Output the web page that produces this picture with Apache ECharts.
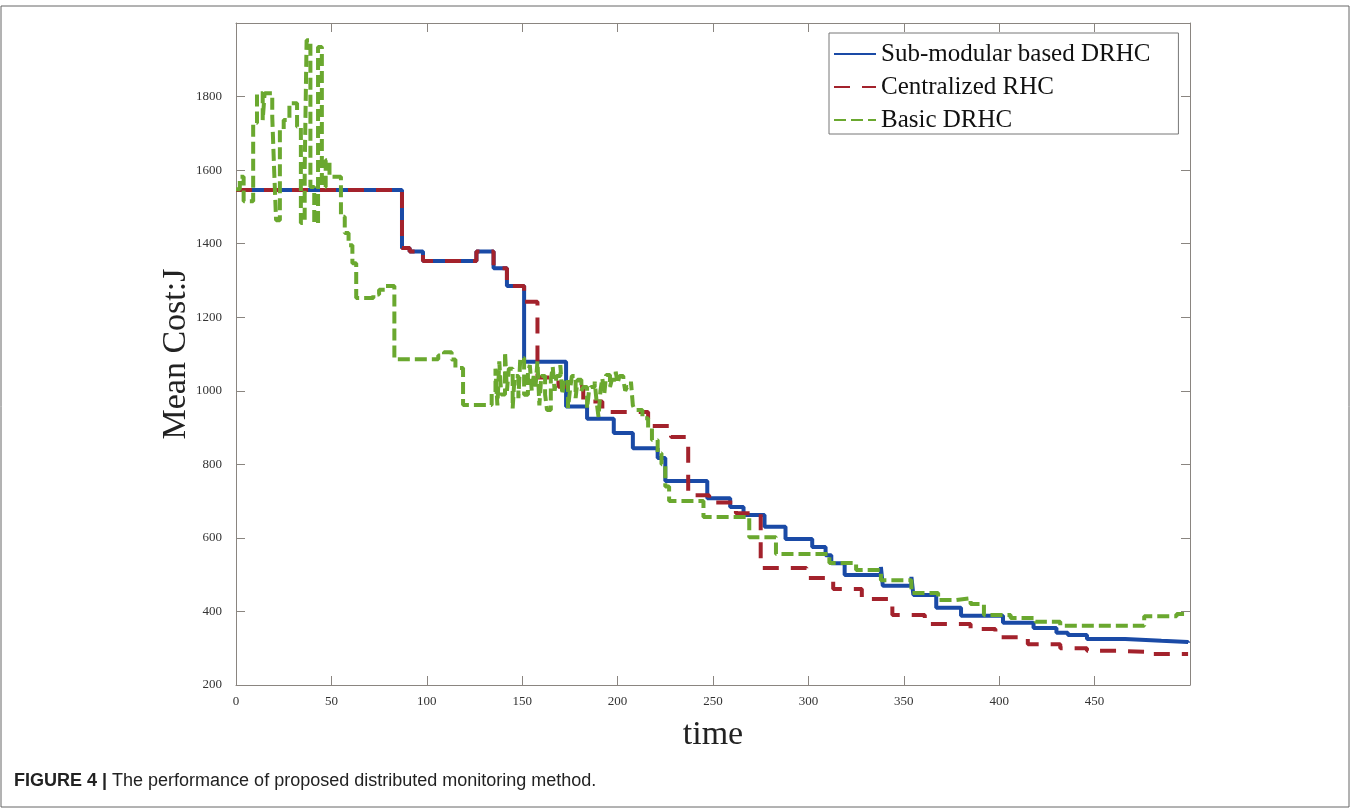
<!DOCTYPE html>
<html>
<head>
<meta charset="utf-8">
<script src="https://cdn.jsdelivr.net/npm/echarts@6/dist/echarts.min.js"></script>
<style>
  html, body { margin: 0; padding: 0; background: #fff; }
  #box { width: 1355px; height: 808px; }
</style>
</head>
<body>
<div id="box"></div>
<script>
// series names
var seriesNames = ['Sub-modular based DRHC', 'Centralized RHC', 'Basic DRHC'];

// [time, mean cost] -- each value holds until the next time
var subModular = [
    [0, 1546], [87, 1388], [91, 1379], [98, 1353], [126, 1379], [135, 1333], [142, 1285],
    [151, 1079], [173, 957], [184, 924], [198, 885], [208, 844], [221, 817], [225, 755],
    [247, 708], [259, 684], [266, 662], [277, 630], [288, 597], [302, 575], [309, 553],
    [312, 531], [319, 499], [338, 521], [339, 470], [354, 494], [355, 445], [367, 410],
    [380, 388], [402, 369], [418, 355], [430, 342], [436, 336], [446, 325], [466, 320],
    [485, 317], [499, 315]
];

var centralized = [
    [0, 1546], [87, 1388], [91, 1379], [98, 1353], [126, 1379], [135, 1333], [142, 1285],
    [151, 1242], [158, 1036], [169, 1011], [182, 971], [192, 942], [216, 904], [228, 874],
    [237, 716], [248, 696], [262, 667], [275, 518], [299, 491], [313, 461], [328, 434],
    [344, 390], [361, 366], [385, 352], [398, 330], [415, 311], [432, 300], [446, 293],
    [462, 290], [480, 284], [499, 284]
];

var basic = [
    [0, 1548], [2, 1582], [4, 1515], [9, 1728], [11, 1809], [14, 1736], [15, 1809],
    [19, 1745], [20, 1600], [21, 1464], [23, 1709], [25, 1736], [28, 1782], [32, 1718],
    [34, 1456], [36, 1600], [37, 1953], [39, 1554], [41, 1456], [43, 1935], [45, 1554],
    [47, 1627], [49, 1582], [55, 1473], [57, 1429], [59, 1396], [61, 1347], [63, 1252],
    [72, 1262], [75, 1275], [78, 1285], [83, 1086], [106, 1096], [109, 1105], [113, 1085],
    [115, 1062], [119, 961], [134, 997], [136, 1060], [137, 960], [138, 1080], [139, 990],
    [141, 1106], [142, 1000], [143, 1060], [145, 952], [146, 1040], [148, 980], [149, 1089],
    [151, 989], [153, 1050], [154, 1070], [155, 1000], [156, 1040], [157, 1012], [158, 1080],
    [159, 960], [160, 1040], [162, 990], [163, 948], [165, 1030], [166, 1065], [167, 1000],
    [168, 1040], [170, 1070], [171, 990], [172, 1030], [174, 953], [175, 1000], [176, 1040],
    [178, 980], [179, 1030], [181, 1000], [182, 1010], [184, 952], [185, 1000], [186, 1010],
    [188, 1025], [189, 970], [190, 929], [191, 1000], [192, 1034], [193, 990], [194, 1043],
    [196, 1010], [197, 1030], [199, 1052], [200, 1020], [201, 1040], [203, 1030], [204, 1000],
    [205, 1010], [207, 1025], [208, 960], [209, 948], [213, 925], [216, 900], [218, 866],
    [221, 830], [223, 800], [225, 740], [227, 700], [245, 657], [269, 602], [283, 556],
    [311, 532], [325, 513], [338, 485], [354, 450], [368, 431], [377, 436], [385, 420],
    [392, 390], [406, 382], [419, 372], [432, 361], [476, 387], [493, 393], [499, 393]
];

var serif = 'Liberation Serif';
var axisGray = '#8a8580';

var myChart = echarts.init(document.getElementById('box'));
var option = {
    animation: false,
    backgroundColor: '#fff',
    grid: { left: 236, right: 165, top: 23, bottom: 123 },
    legend: {
        orient: 'vertical',
        left: 829,
        top: 33,
        padding: [8, 28, 1, 4],
        borderColor: '#777',
        borderWidth: 1,
        backgroundColor: '#fff',
        itemWidth: 42,
        itemHeight: 14,
        itemGap: 7,
        itemStyle: { opacity: 0 },
        data: seriesNames,
        textStyle: { fontFamily: serif, fontSize: 25, color: '#111', lineHeight: 26 }
    },
    xAxis: [
        {
            type: 'value',
            min: 0, max: 500, interval: 50,
            name: 'time',
            nameLocation: 'middle',
            nameGap: 33,
            nameTextStyle: { fontFamily: serif, fontSize: 34, color: '#222' },
            axisLine: { show: true, onZero: false, lineStyle: { color: axisGray } },
            axisTick: { inside: true, length: 9, lineStyle: { color: axisGray } },
            axisLabel: { showMaxLabel: false, fontFamily: serif, fontSize: 13, color: '#333', margin: 10 },
            splitLine: { show: false }
        },
        {
            type: 'value', position: 'top',
            min: 0, max: 500, interval: 50,
            axisLine: { show: true, onZero: false, lineStyle: { color: axisGray } },
            axisTick: { inside: true, length: 9, lineStyle: { color: axisGray } },
            axisLabel: { show: false },
            splitLine: { show: false }
        }
    ],
    yAxis: [
        {
            type: 'value',
            position: 'left',
            min: 200, max: 2000, interval: 200,
            name: 'Mean Cost:J',
            nameLocation: 'middle',
            nameGap: 43,
            nameMoveOverlap: false,
            nameTextStyle: { fontFamily: serif, fontSize: 34, color: '#222' },
            axisLine: { show: true, onZero: false, lineStyle: { color: axisGray } },
            axisTick: { inside: true, length: 9, lineStyle: { color: axisGray } },
            axisLabel: {
                showMaxLabel: false, fontFamily: serif, fontSize: 13, color: '#333', margin: 14,
                formatter: function (v) { return String(v); }
            },
            splitLine: { show: false }
        },
        {
            type: 'value', position: 'right',
            min: 200, max: 2000, interval: 200,
            axisLine: { show: true, onZero: false, lineStyle: { color: axisGray } },
            axisTick: { inside: true, length: 9, lineStyle: { color: axisGray } },
            axisLabel: { show: false },
            splitLine: { show: false }
        }
    ],
    series: [
        {
            name: seriesNames[0],
            type: 'line',
            step: 'end',
            showSymbol: false,
            symbol: 'none',
            data: subModular,
            itemStyle: { color: '#1a4aa6' },
            lineStyle: { color: '#1a4aa6', width: 4 }
        },
        {
            name: seriesNames[1],
            type: 'line',
            step: 'end',
            showSymbol: false,
            symbol: 'none',
            data: centralized,
            itemStyle: { color: '#a3222c' },
            lineStyle: { color: '#a3222c', width: 4, type: [16, 12] }
        },
        {
            name: seriesNames[2],
            type: 'line',
            step: 'end',
            showSymbol: false,
            symbol: 'none',
            data: basic,
            itemStyle: { color: '#6aa82f' },
            lineStyle: { color: '#6aa82f', width: 4, type: [12, 5] }
        }
    ],
    graphic: [
        {
            type: 'rect',
            shape: { x: 1, y: 6, width: 1348, height: 801 },
            style: { fill: 'none', stroke: '#666', lineWidth: 1 },
            silent: true
        },
        {
            type: 'text',
            left: 14,
            top: 772,
            style: {
                text: '{b|FIGURE 4 |} The performance of proposed distributed monitoring method.',
                font: '18px "Liberation Sans"',
                fill: '#222',
                rich: {
                    b: { fontWeight: 'bold', fontSize: 18, fontFamily: 'Liberation Sans', fill: '#222' }
                }
            }
        }
    ]
};

option && myChart.setOption(option);
</script>
</body>
</html>
